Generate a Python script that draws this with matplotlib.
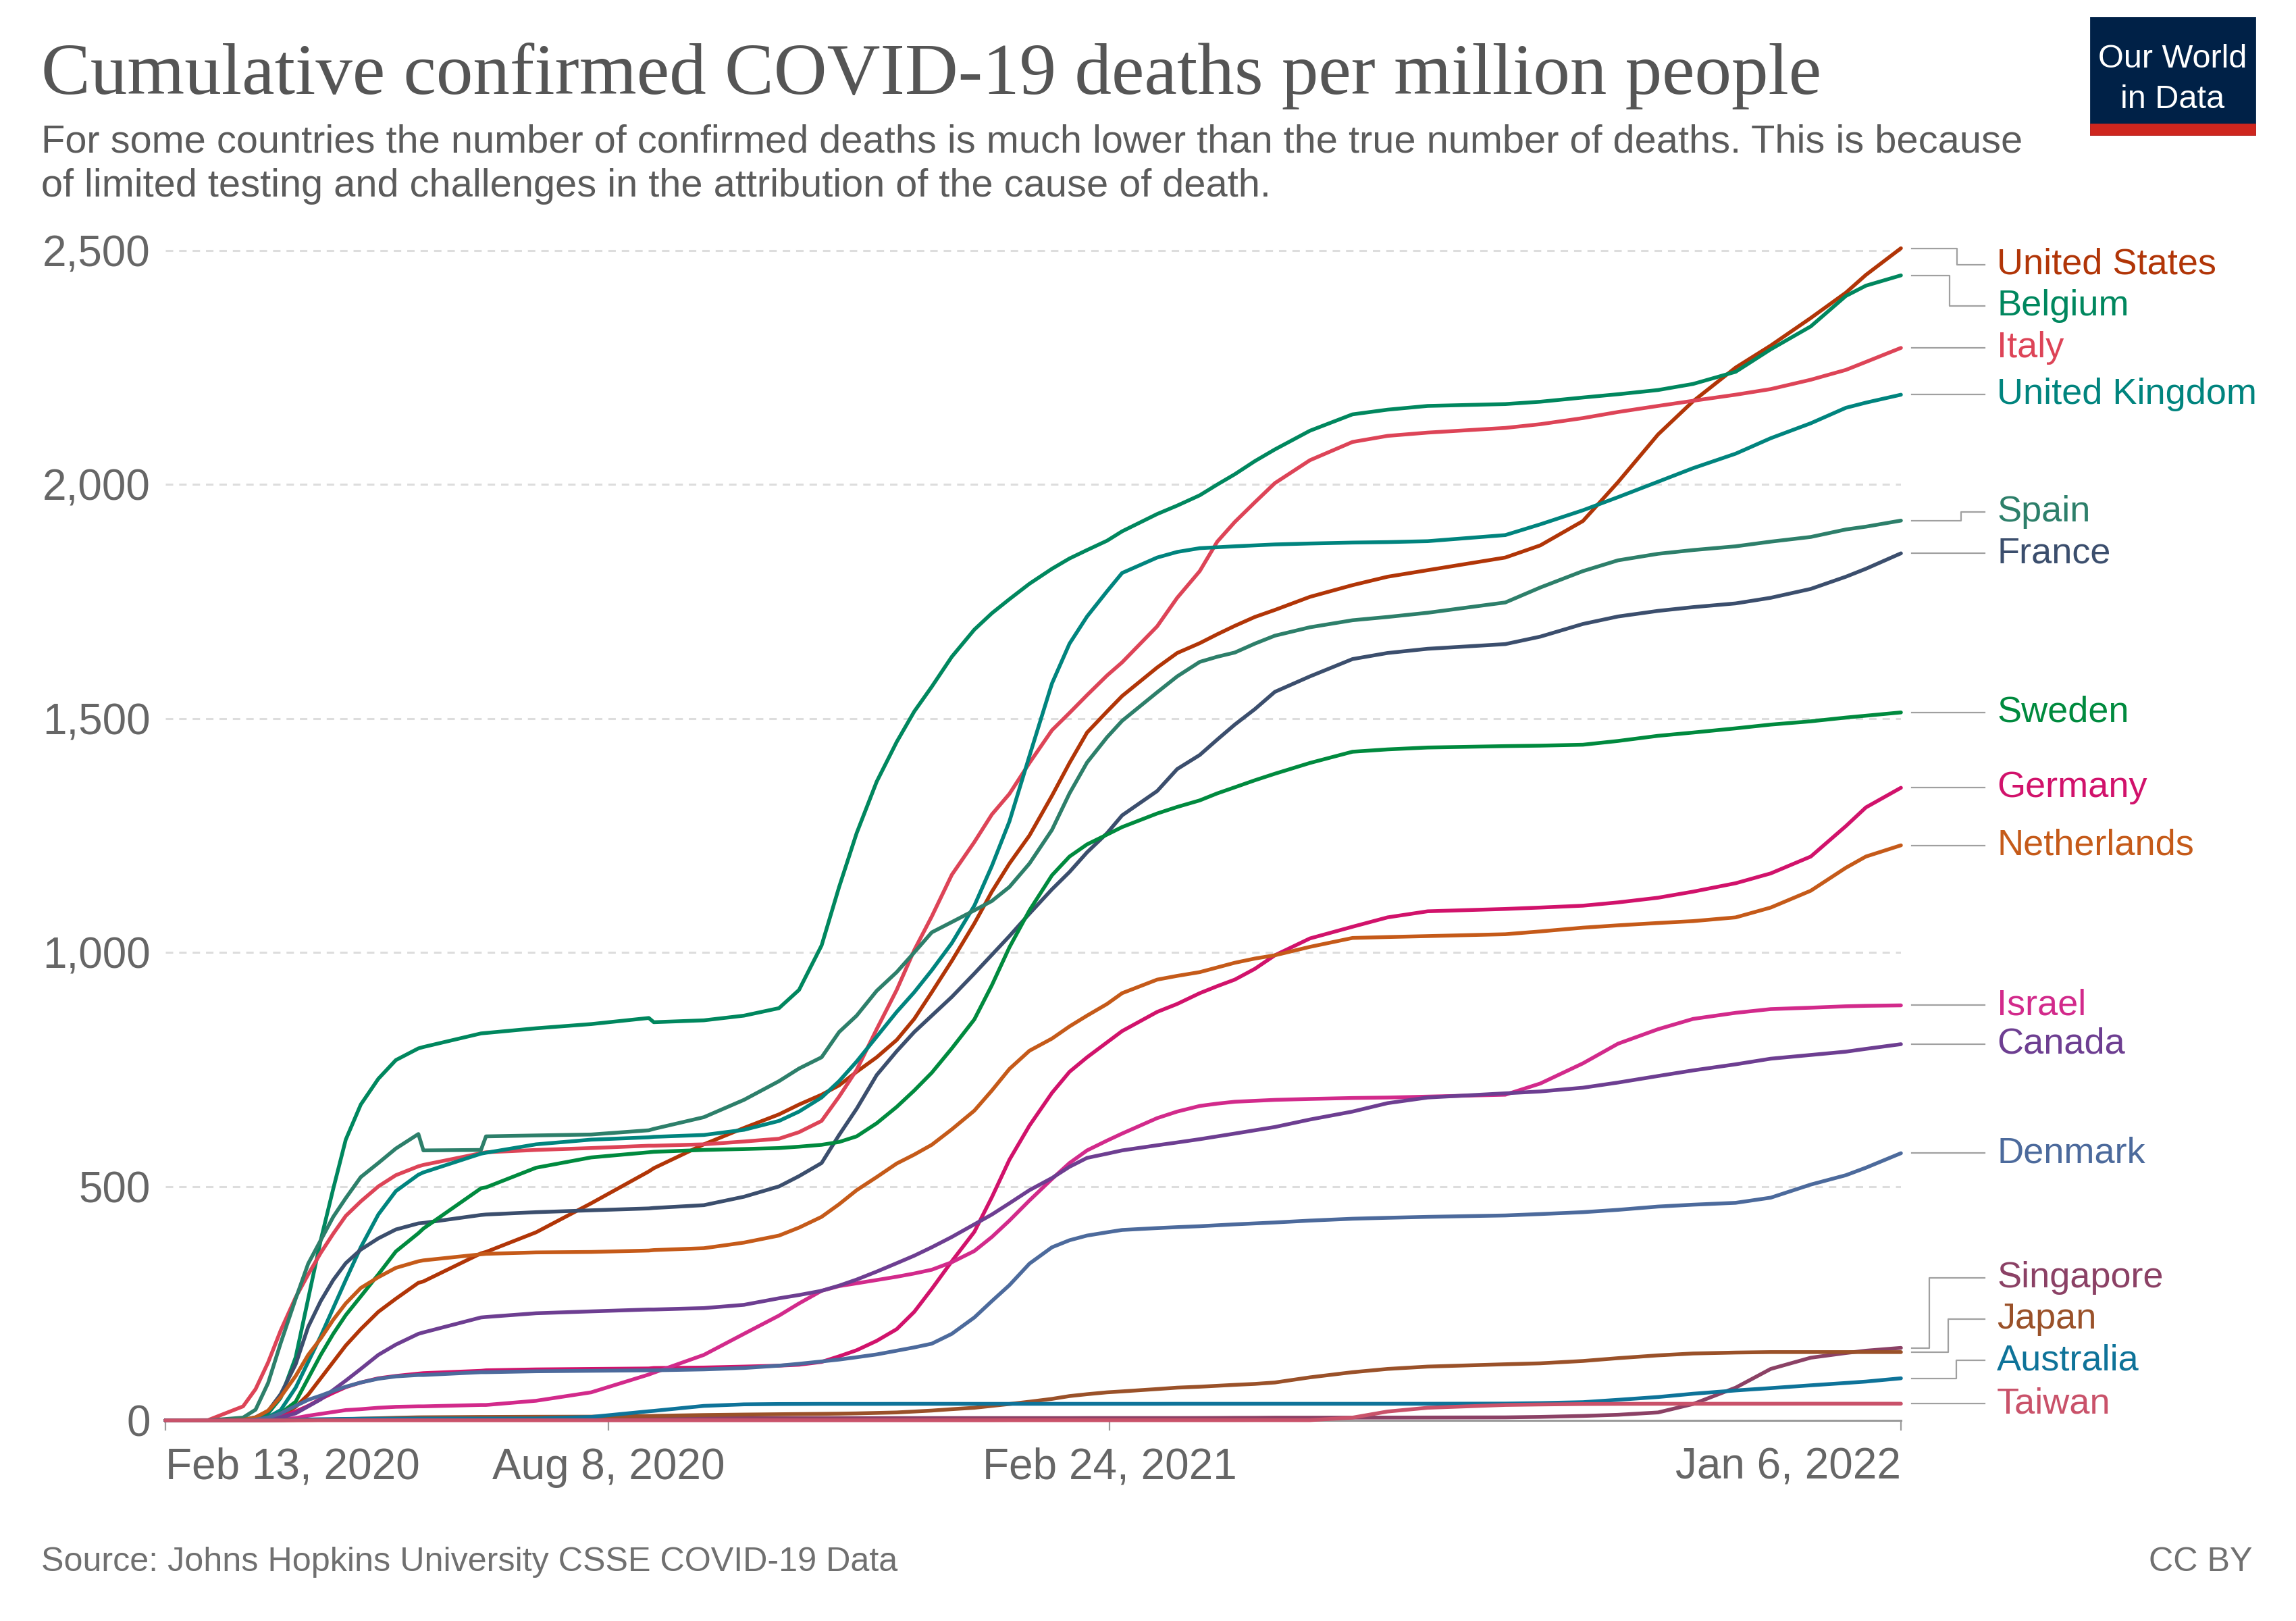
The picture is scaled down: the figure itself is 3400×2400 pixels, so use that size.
import datetime as dt

import matplotlib
matplotlib.use("Agg")
import matplotlib.pyplot as plt
import matplotlib.transforms as mtransforms
from matplotlib.patches import Rectangle

plt.rcParams['font.family'] = ['Liberation Sans', 'DejaVu Sans']

# sample dates (cumulative values at these days)
dates = ["2020-02-13", "2020-03-01", "2020-03-15", "2020-03-20", "2020-03-25", "2020-03-30",
         "2020-04-05", "2020-04-10", "2020-04-15", "2020-04-20", "2020-04-25", "2020-05-01",
         "2020-05-08", "2020-05-15", "2020-05-24", "2020-05-26", "2020-06-18", "2020-06-20",
         "2020-07-10", "2020-08-01", "2020-08-24", "2020-08-26",
         "2020-09-15", "2020-10-01", "2020-10-15", "2020-10-23", "2020-11-01", "2020-11-08",
         "2020-11-15", "2020-11-23", "2020-12-01", "2020-12-08", "2020-12-15", "2020-12-23",
         "2021-01-01", "2021-01-08", "2021-01-15", "2021-01-23", "2021-02-01", "2021-02-08",
         "2021-02-15", "2021-02-23", "2021-03-01", "2021-03-15", "2021-03-23", "2021-04-01",
         "2021-04-08", "2021-04-15", "2021-04-23", "2021-05-01", "2021-05-15", "2021-06-01",
         "2021-06-15", "2021-07-01", "2021-08-01", "2021-08-15",
         "2021-09-01", "2021-09-15", "2021-10-01", "2021-10-15", "2021-11-01", "2021-11-15",
         "2021-12-01", "2021-12-15", "2021-12-23", "2022-01-06"]

united_states = [0, 0, 0.2, 0.8, 3, 9, 29, 55, 90, 125, 160, 195,
                 232, 260, 294, 297, 357, 360, 402, 464, 532, 539,
                 590, 625, 654, 675, 696, 716, 745, 776, 813, 858, 915, 982,
                 1062, 1130, 1190, 1250, 1335, 1405, 1470, 1515, 1548, 1609, 1640, 1661,
                 1680, 1698, 1717, 1732, 1760, 1785, 1803, 1817, 1844, 1870,
                 1922, 2005, 2107, 2178, 2250, 2297, 2356, 2410, 2448, 2505]
belgium = [0, 0, 0.3, 3, 15, 48, 135, 260, 385, 495, 600, 675,
           730, 770, 795, 798, 827, 828, 838, 847, 860, 851,
           855, 865, 881, 920, 1015, 1140, 1255, 1365, 1450, 1515, 1568, 1632,
           1690, 1725, 1755, 1788, 1820, 1842, 1860, 1880, 1900, 1937, 1955, 1977,
           2000, 2022, 2050, 2075, 2115, 2150, 2160, 2168, 2172, 2177,
           2186, 2193, 2202, 2215, 2241, 2289, 2338, 2403, 2425, 2447]
italy = [0, 0.6, 30, 67, 124, 192, 263, 312, 358, 399, 437, 468,
         500, 524, 543, 546, 571, 573, 578, 582, 587, 587,
         590, 596, 602, 616, 640, 692, 749, 836, 920, 1005, 1077, 1166,
         1236, 1295, 1339, 1405, 1475, 1512, 1550, 1592, 1620, 1697, 1758, 1815,
         1878, 1920, 1962, 2003, 2052, 2091, 2104, 2111, 2121, 2129,
         2142, 2155, 2168, 2179, 2192, 2204, 2224, 2245, 2262, 2292]
united_kingdom = [0, 0, 0.3, 2, 7, 22, 70, 125, 180, 240, 300, 370,
                  440, 490, 525, 530, 570, 572, 590, 600, 605, 606,
                  610, 621, 640, 660, 690, 725, 767, 820, 873, 915, 962, 1020,
                  1100, 1185, 1280, 1420, 1575, 1660, 1718, 1772, 1811, 1844, 1856, 1864,
                  1866, 1868, 1870, 1872, 1874, 1876, 1877, 1879, 1892, 1915,
                  1945, 1973, 2006, 2035, 2066, 2099, 2131, 2164, 2175, 2192]
spain = [0, 0, 6, 23, 80, 165, 260, 335, 385, 435, 475, 520,
         550, 581, 612, 577, 578, 607, 609, 611, 620, 623,
         648, 685, 725, 752, 776, 830, 865, 918, 958, 1000, 1043, 1065,
         1090, 1110, 1140, 1190, 1262, 1340, 1406, 1460, 1495, 1556, 1590, 1621,
         1632, 1641, 1660, 1677, 1695, 1710, 1717, 1726, 1748, 1780,
         1815, 1838, 1852, 1860, 1868, 1878, 1888, 1904, 1910, 1923]
france = [0, 0, 1.4, 6.7, 20, 56, 120, 200, 255, 300, 336, 365,
          389, 408, 421, 422, 439, 440, 445, 449, 453, 454,
          460, 478, 500, 522, 550, 610, 666, 738, 789, 830, 865, 905,
          955, 995, 1035, 1083, 1135, 1172, 1214, 1255, 1293, 1345, 1392, 1422,
          1455, 1487, 1520, 1557, 1590, 1627, 1640, 1649, 1659, 1675,
          1702, 1718, 1730, 1738, 1746, 1758, 1777, 1803, 1820, 1853]
sweden = [0, 0, 0.1, 2, 6, 15, 40, 90, 140, 185, 225, 265,
          312, 361, 400, 410, 496, 498, 540, 562, 573, 574,
          578, 580, 582, 585, 589, 595, 607, 635, 670, 705, 743, 795,
          857, 930, 1011, 1090, 1165, 1205, 1231, 1252, 1268, 1297, 1311, 1325,
          1340, 1353, 1368, 1382, 1405, 1429, 1434, 1438, 1441, 1442,
          1444, 1452, 1463, 1470, 1479, 1487, 1494, 1502, 1506, 1513]
germany = [0, 0, 0.1, 0.8, 2.5, 7.5, 19, 31, 46, 59, 71, 81,
           90, 95, 100, 101, 106, 107, 109, 110, 111, 112,
           113, 115, 117, 119, 125, 137, 150, 170, 195, 232, 281, 340,
           403, 477, 557, 630, 700, 745, 776, 808, 832, 873, 890, 913,
           928, 942, 965, 994, 1030, 1055, 1075, 1088, 1093, 1096,
           1100, 1107, 1117, 1130, 1148, 1169, 1205, 1270, 1310, 1352]
netherlands = [0, 0, 1.2, 6.3, 21, 50, 95, 140, 175, 215, 250, 283,
               306, 326, 340, 342, 355, 356, 359, 360, 363, 364,
               368, 380, 395, 412, 435, 462, 492, 520, 549, 568, 589, 622,
               662, 705, 751, 790, 816, 842, 865, 890, 913, 942, 950, 958,
               968, 978, 987, 994, 1012, 1031, 1033, 1035, 1039, 1045,
               1053, 1058, 1063, 1067, 1075, 1096, 1132, 1181, 1205, 1229]
israel = [0, 0, 0, 0, 0.5, 1.5, 5, 10, 14, 18, 22, 24,
          27, 29, 30, 30, 33, 33, 42, 60, 98, 102,
          140, 185, 224, 250, 277, 287, 293, 300, 307, 314, 322, 338,
          362, 392, 427, 470, 516, 550, 577, 598, 613, 646, 660, 672,
          677, 681, 683, 685, 687, 689, 690, 692, 696, 720,
          763, 805, 836, 858, 871, 879, 882, 885, 886, 887]
canada = [0, 0, 0.1, 0.3, 1, 6, 15, 30, 45, 65, 85, 110,
          140, 162, 185, 188, 220, 221, 229, 233, 237, 237,
          240, 247, 261, 268, 277, 288, 301, 318, 336, 352, 370, 392,
          419, 440, 464, 492, 518, 542, 561, 570, 577, 588, 594, 601,
          607, 613, 620, 627, 643, 660, 678, 690, 699, 703,
          711, 722, 736, 748, 761, 773, 781, 788, 794, 804]
denmark = [0, 0, 0.2, 1.6, 6, 15, 31, 44, 53, 63, 72, 81,
           89, 94, 97, 97, 103, 103, 105, 106, 107, 107,
           109, 112, 117, 121, 126, 130, 135, 141, 149, 156, 164, 185,
           220, 255, 289, 335, 370, 385, 395, 402, 407, 411, 413, 415,
           417, 419, 421, 423, 427, 431, 433, 435, 438, 441,
           445, 450, 457, 461, 465, 476, 504, 524, 540, 571]
singapore = [0, 0, 0, 0, 0.3, 0.5, 1, 1.6, 1.8, 2, 2.2, 2.7,
             3, 3.7, 4, 4, 4.5, 4.5, 4.6, 4.7, 4.8, 4.8,
             4.8, 4.8, 4.8, 4.8, 4.9, 4.9, 4.9, 4.9, 4.9, 4.9, 5, 5,
             5, 5, 5, 5, 5, 5, 5.1, 5.1, 5.1, 5.1, 5.1, 5.2,
             5.3, 5.5, 5.6, 5.9, 5.9, 6, 6.1, 6.2, 6.5, 7.5,
             9.5, 12, 17, 35, 70, 110, 134, 144, 149, 155]
japan = [0, 0.05, 0.2, 0.3, 0.4, 0.5, 0.7, 0.9, 1.2, 2, 2.7, 3.7,
         4.6, 5.6, 6.6, 6.7, 7.4, 7.4, 7.8, 8, 9.5, 9.7,
         11.5, 12.5, 13.2, 13.6, 14, 14.4, 15, 16, 17, 19, 21, 24,
         27, 31, 35, 40, 46, 52, 56, 60, 62, 67, 70, 72,
         74, 76, 78, 81, 92, 103, 110, 115, 120, 122,
         127, 133, 139, 143, 145, 146, 146, 146, 146, 146]
australia = [0, 0, 0.2, 0.3, 0.5, 0.7, 1.4, 2.1, 2.5, 2.8, 3.2, 3.6,
             3.8, 3.9, 4, 4, 4, 4, 4.2, 7.4, 19.5, 20.4,
             31, 34.3, 35, 35.1, 35.3, 35.3, 35.3, 35.3, 35.4, 35.4, 35.4, 35.4,
             35.4, 35.4, 35.4, 35.4, 35.4, 35.4, 35.4, 35.4, 35.4, 35.4, 35.5, 35.5,
             35.5, 35.5, 35.5, 35.5, 35.5, 35.5, 35.5, 35.6, 36, 37,
             39, 44, 50, 57, 64, 69, 75, 80, 83, 90]
taiwan = [0, 0, 0, 0, 0.1, 0.1, 0.2, 0.2, 0.3, 0.3, 0.3, 0.3,
          0.3, 0.3, 0.3, 0.3, 0.3, 0.3, 0.3, 0.3, 0.3, 0.3,
          0.3, 0.3, 0.3, 0.3, 0.3, 0.3, 0.3, 0.3, 0.3, 0.3, 0.3, 0.3,
          0.3, 0.3, 0.4, 0.4, 0.4, 0.4, 0.4, 0.4, 0.4, 0.4, 0.4, 0.4,
          0.4, 0.4, 0.5, 0.5, 0.5, 6, 19, 27, 33, 34,
          35, 35.3, 35.5, 35.5, 35.6, 35.6, 35.7, 35.7, 35.7, 35.7]

series = [
    ("United States", united_states, "#b13507"),
    ("Belgium", belgium, "#00875e"),
    ("Italy", italy, "#dd4457"),
    ("United Kingdom", united_kingdom, "#00847e"),
    ("Spain", spain, "#2d7f6a"),
    ("France", france, "#3b4e6d"),
    ("Sweden", sweden, "#008a3e"),
    ("Germany", germany, "#d1126b"),
    ("Netherlands", netherlands, "#c55a19"),
    ("Israel", israel, "#d22a8b"),
    ("Canada", canada, "#6d3e91"),
    ("Denmark", denmark, "#4c6a9c"),
    ("Singapore", singapore, "#8b4165"),
    ("Japan", japan, "#9a5129"),
    ("Australia", australia, "#0e7399"),
    ("Taiwan", taiwan, "#c9526a"),
]

tick_dates = ["2020-02-13", "2020-08-08", "2021-02-24", "2022-01-06"]
tick_labels = ["Feb 13, 2020", "Aug 8, 2020", "Feb 24, 2021", "Jan 6, 2022"]
y_ticks = [0, 500, 1000, 1500, 2000, 2500]


def to_date(s):
    return dt.datetime.strptime(s, "%Y-%m-%d")


def place_labels(ends, gap=88, top=2470, bottom=40):
    # push labels apart going up, then squeeze them under the top limit
    order = sorted(range(len(ends)), key=lambda i: ends[i])
    pos = {}
    prev = None
    for i in order:
        y = max(ends[i], bottom) if prev is None else max(ends[i], prev + gap)
        pos[i] = y
        prev = y
    prev = None
    for i in reversed(order):
        y = min(pos[i], top) if prev is None else min(pos[i], prev - gap)
        pos[i] = y
        prev = y
    return [pos[i] for i in range(len(ends))]


x = [to_date(d) for d in dates]

fig = plt.figure(figsize=(17, 12), dpi=200)
ymax = 2520
ax = fig.add_axes([245 / 3400, 297 / 2400, 2570 / 3400, ymax * 0.6928 / 2400])

for name, vals, color in series:
    ax.plot(x, vals, color=color, lw=2.0, clip_on=False, zorder=3,
            solid_joinstyle="round", solid_capstyle="round")

ax.set_xlim(to_date(dates[0]), to_date(dates[-1]))
ax.set_ylim(0, ymax)
ax.set_yticks(y_ticks)
ax.set_yticklabels([f"{v:,}" for v in y_ticks])
ax.set_xticks([to_date(d) for d in tick_dates])
ax.set_xticklabels(tick_labels)
xl = ax.get_xticklabels()
xl[0].set_ha("left")
xl[-1].set_ha("right")

for s in ["top", "right", "left"]:
    ax.spines[s].set_visible(False)
ax.spines["bottom"].set_color("#9a9a9a")
ax.spines["bottom"].set_linewidth(1.1)
ax.tick_params(axis="y", length=0, pad=8, labelsize=23, labelcolor="#666666")
ax.tick_params(axis="x", length=5.4, width=0.8, color="#9a9a9a", pad=9,
               labelsize=23, labelcolor="#666666")
ax.grid(axis="y", color="#dddddd", lw=1.1, linestyle=(0, (3.6, 2.9)), zorder=0)
ax.set_axisbelow(True)

# end labels with connector lines
trans = mtransforms.blended_transform_factory(ax.transAxes, ax.transData)
ends = [vals[-1] for _, vals, _ in series]
label_y = place_labels(ends)
for (name, vals, color), ly in zip(series, label_y):
    end = vals[-1]
    disp = abs(ly - end)
    if disp < 10:
        ly = end
        ax.plot([1.0062, 1.0482], [end, end], transform=trans,
                color="#a0a0a0", lw=0.8, clip_on=False)
    else:
        elbow = 1.037 - min(disp, 160) / 160 * 0.022
        ax.plot([1.0062, elbow, elbow, 1.0482], [end, end, ly, ly], transform=trans,
                color="#a0a0a0", lw=0.8, clip_on=False)
    ax.text(1.0553, ly, name, transform=trans, color=color, fontsize=19.5,
            va="center", ha="left")

# header
fig.text(61 / 3400, 1 - 139 / 2400, "Cumulative confirmed COVID-19 deaths per million people",
         family="Liberation Serif", fontsize=39.3, color="#555555", va="baseline")
fig.text(61 / 3400, 1 - 225 / 2400,
         "For some countries the number of confirmed deaths is much lower than the true number of deaths. This is because",
         fontsize=20.8, color="#5b5b5b", va="baseline")
fig.text(61 / 3400, 1 - 291 / 2400,
         "of limited testing and challenges in the attribution of the cause of death.",
         fontsize=20.8, color="#5b5b5b", va="baseline")

# logo
fig.patches.append(Rectangle((3096 / 3400, 1 - 199 / 2400), 243 / 3400, 173 / 2400,
                             transform=fig.transFigure, color="#002147", zorder=1))
fig.patches.append(Rectangle((3096 / 3400, 1 - 199 / 2400), 243 / 3400, 15 / 2400,
                             transform=fig.transFigure, color="#ce261e", zorder=2))
fig.text(3217 / 3400, 1 - 87 / 2400, "Our World", color="white", fontsize=17.5,
         ha="center", va="center")
fig.text(3217 / 3400, 1 - 147 / 2400, "in Data", color="white", fontsize=17.5,
         ha="center", va="center")

# footer
fig.text(61 / 3400, 1 - 2313 / 2400, "Source: Johns Hopkins University CSSE COVID-19 Data",
         fontsize=18.1, color="#707070", va="center")
fig.text(3335 / 3400, 1 - 2313 / 2400, "CC BY", fontsize=18.1, color="#707070",
         va="center", ha="right")

fig.savefig("out.png", dpi=200, facecolor="white")
